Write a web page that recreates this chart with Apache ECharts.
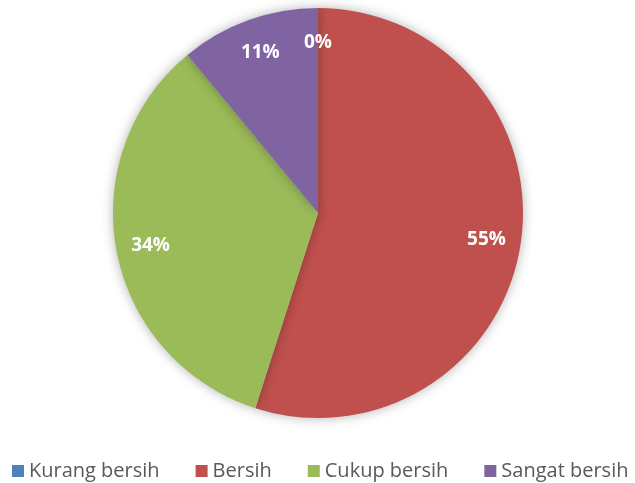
<!DOCTYPE html>
<html lang="en">
<head>
  <meta charset="UTF-8">
  <title>Kebersihan</title>
  <script src='https://cdn.jsdelivr.net/npm/echarts@6/dist/echarts.min.js'></script>
  <style>
    body { margin: 0; background: #fff; }
  </style>
</head>
<body>
<div id="chart" style="width: 635px; height: 483px"></div>
<script>
  // data
  const categories = ['Kurang bersih', 'Bersih', 'Cukup bersih', 'Sangat bersih'];
  const values = [0, 50, 31, 10];
  const colors = ['#4F81BD', '#C0504D', '#9BBB59', '#8064A2'];

  let chart = echarts.init(document.getElementById('chart'));
  let pieData = [];
  for (let i = 0; i < categories.length; i++) {
    pieData.push({name: categories[i], value: values[i]});
  }
  let option = {
    color: colors,
    legend: {
      bottom: 2,
      left: 12,
      width: 640,
      padding: 0,
      itemWidth: 12,
      itemHeight: 12,
      itemGap: 36,
      icon: 'rect',
      textStyle: {fontFamily: 'Open Sans', fontSize: 20, color: '#595959'},
      data: categories
    },
    series: [
      {
        type: 'pie',
        center: [318, 213],
        radius: [0, 205],
        startAngle: 90,
        clockwise: true,
        silent: true,
        label: {show: false},
        itemStyle: {shadowBlur: 12, shadowColor: 'rgba(0,0,0,0.3)'},
        data: pieData
      },
      {
        // transparent ring only used to place the labels near the rim
        type: 'pie',
        center: [318, 213],
        radius: [130, 205],
        startAngle: 90,
        clockwise: true,
        silent: true,
        itemStyle: {color: 'rgba(0,0,0,0)'},
        label: {
          show: true,
          position: 'inside',
          color: '#fff',
          fontFamily: 'Open Sans',
          fontWeight: 'bold',
          fontSize: 19,
          formatter: function (p) {
            return Math.round(p.percent) + '%';
          }
        },
        labelLine: {show: false},
        data: pieData
      }
    ]
  };
  chart.setOption(option);
</script>
</body>
</html>
